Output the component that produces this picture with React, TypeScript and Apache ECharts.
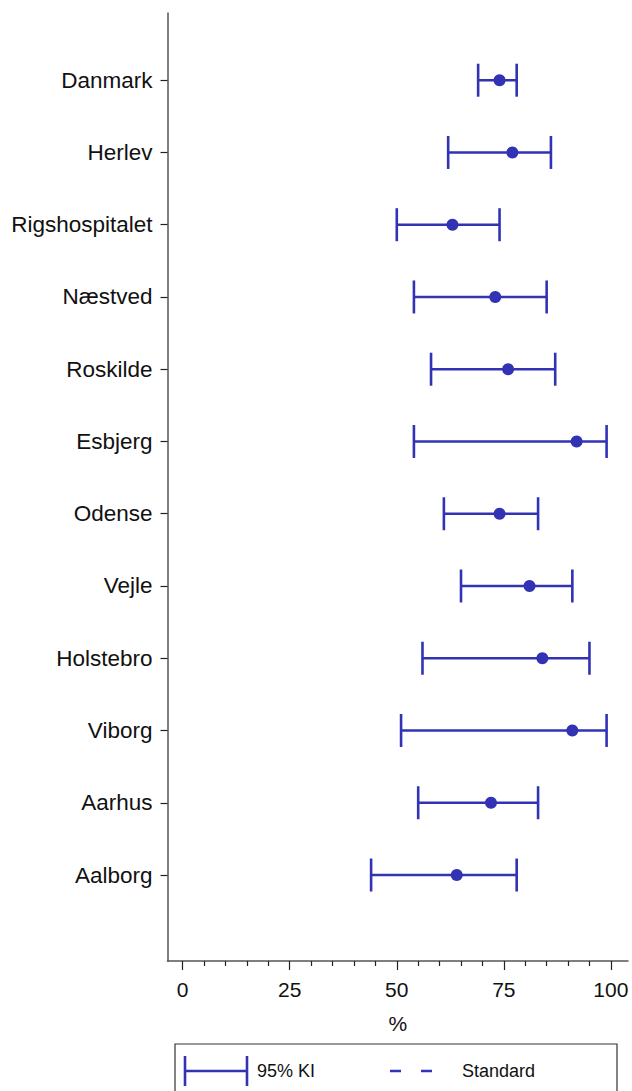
import React, { useEffect, useRef } from "react";
import * as echarts from "echarts";

const categories = ["Danmark", "Herlev", "Rigshospitalet", "Næstved", "Roskilde", "Esbjerg", "Odense", "Vejle", "Holstebro", "Viborg", "Aarhus", "Aalborg"];
const estimates = [74, 77, 63, 73, 76, 92, 74, 81, 84, 91, 72, 64];
const lower = [69, 62, 50, 54, 58, 54, 61, 65, 56, 51, 55, 44];
const upper = [78, 86, 74, 85, 87, 99, 83, 91, 95, 99, 83, 78];
const xTicks = [0, 25, 50, 75, 100];
const xMinorTicks = [5, 10, 15, 20, 30, 35, 40, 45, 55, 60, 65, 70, 80, 85, 90, 95];
const legendLabels = ["95% KI", "Standard"];

const BLUE = "#3232b4";
const AXIS = "#555555";
const FONT = "'Liberation Sans', Arial, Helvetica, sans-serif";

export default function App() {
  const ref = useRef<HTMLDivElement>(null);
  useEffect(() => {
    document.body.style.margin = "0";
    const chart = echarts.init(ref.current!, null, { renderer: "svg" });
    const n = categories.length;
    const yPos = categories.map((_, i) => n - i);
    const ciData = categories.map((c, i) => [lower[i], upper[i], yPos[i]]);
    const pointData = categories.map((c, i) => [estimates[i], yPos[i]]);

    const lx = 185, rx = 247, ly = 1071;
    chart.setOption({
      animation: false,
      textStyle: { fontFamily: FONT },
      grid: { left: 167.5, right: 4, top: 13, bottom: 130 },
      xAxis: [
        {
          type: "value",
          min: -3.55,
          max: 104,
          axisLine: { show: true, onZero: false, lineStyle: { color: AXIS, width: 1.5 } },
          axisTick: { show: true, customValues: xTicks, length: 9, lineStyle: { color: "#222", width: 1.2 } },
          axisLabel: { customValues: xTicks, fontSize: 21, color: "#111", margin: 18, fontFamily: FONT },
          splitLine: { show: false },
          name: "%",
          nameLocation: "middle",
          nameGap: 52,
          nameTextStyle: { fontSize: 21, color: "#111", fontFamily: FONT },
        },
        {
          type: "value",
          min: -3.55,
          max: 104,
          position: "bottom",
          axisLine: { show: false, onZero: false },
          axisTick: { show: true, customValues: xMinorTicks, length: 5, lineStyle: { color: "#222", width: 1.2 } },
          axisLabel: { show: false },
          splitLine: { show: false },
        },
      ],
      yAxis: {
        type: "value",
        min: -0.19,
        max: 12.93,
        axisLine: { show: true, onZero: false, lineStyle: { color: AXIS, width: 1.5 } },
        axisTick: { show: true, customValues: yPos, length: 7, lineStyle: { color: "#222", width: 1.2 } },
        axisLabel: {
          customValues: yPos,
          fontSize: 22.5,
          color: "#111",
          margin: 15,
          fontFamily: FONT,
          formatter: (v: number) => categories[n - Math.round(v)] ?? "",
        },
        splitLine: { show: false },
      },
      series: [
        {
          type: "custom",
          data: ciData,
          encode: { x: [0, 1], y: 2 },
          renderItem: (params: any, api: any) => {
            const a = api.coord([api.value(0), api.value(2)]);
            const b = api.coord([api.value(1), api.value(2)]);
            const h = 16.5;
            const style = { stroke: BLUE, lineWidth: 2.6 };
            return {
              type: "group",
              children: [
                { type: "line", shape: { x1: a[0], y1: a[1], x2: b[0], y2: b[1] }, style },
                { type: "line", shape: { x1: a[0], y1: a[1] - h, x2: a[0], y2: a[1] + h }, style },
                { type: "line", shape: { x1: b[0], y1: b[1] - h, x2: b[0], y2: b[1] + h }, style },
              ],
            };
          },
          z: 2,
        },
        {
          type: "scatter",
          data: pointData,
          symbol: "circle",
          symbolSize: 12,
          itemStyle: { color: BLUE, opacity: 1 },
          z: 3,
        },
      ],
      graphic: [
        { type: "rect", shape: { x: 175, y: 1044, width: 442, height: 70 }, style: { fill: "none", stroke: "#333", lineWidth: 1.2 } },
        { type: "line", shape: { x1: lx, y1: ly, x2: rx, y2: ly }, style: { stroke: BLUE, lineWidth: 2.6 } },
        { type: "line", shape: { x1: lx, y1: ly - 15, x2: lx, y2: ly + 15 }, style: { stroke: BLUE, lineWidth: 2.6 } },
        { type: "line", shape: { x1: rx, y1: ly - 15, x2: rx, y2: ly + 15 }, style: { stroke: BLUE, lineWidth: 2.6 } },
        { type: "text", x: 257, y: ly, style: { text: legendLabels[0], fontSize: 18, fill: "#111", fontFamily: FONT, verticalAlign: "middle" } },
        { type: "line", shape: { x1: 390, y1: ly, x2: 433, y2: ly }, style: { stroke: BLUE, lineWidth: 2.6, lineDash: [11, 20] } },
        { type: "text", x: 462, y: ly, style: { text: legendLabels[1], fontSize: 18, fill: "#111", fontFamily: FONT, verticalAlign: "middle" } },
      ],
    });
    return () => chart.dispose();
  }, []);
  return <div ref={ref} style={{ width: 632, height: 1091 }} />;
}
